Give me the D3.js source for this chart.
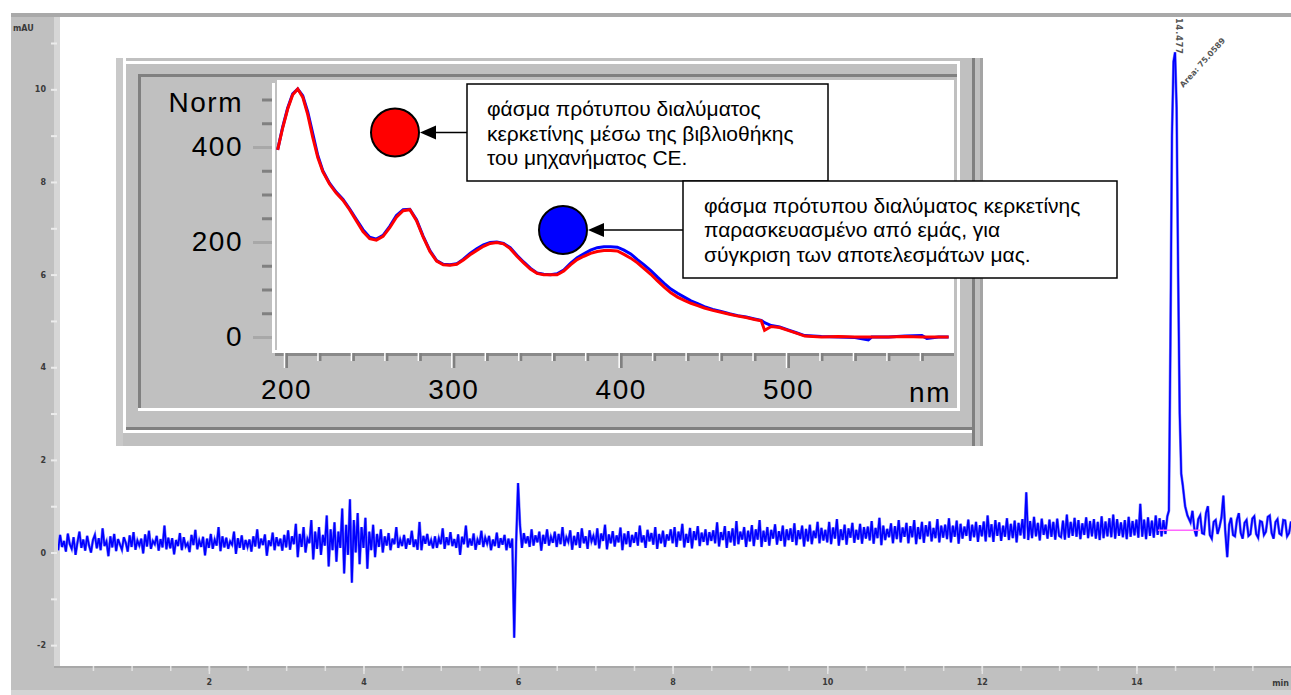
<!DOCTYPE html>
<html>
<head>
<meta charset="utf-8">
<script src="https://cdn.jsdelivr.net/npm/d3@7"></script>
<style>
  html, body { margin: 0; padding: 0; background: #fff; }
  svg { display: block; }
</style>
</head>
<body>
<div id="viz"></div>
<script>
// ---- chromatogram data (mAU vs min) ----
const yLabelTicks = [-2, 0, 2, 4, 6, 8, 10];
const xLabelTicks = [2, 4, 6, 8, 10, 12, 14];

// detector signal sampled every 0.025 min from 0.025 to 14.40 min (one row = 0.5 min)
const chromStart = 0.025;
const chromStep = 0.025;
const chromSignal = [
  0.30, 0.05, 0.38, 0.12, 0.25, 0.02, 0.41, 0.18, 0.08, 0.33, -0.05, 0.22, 0.45, 0.10, 0.28, 0.04, 0.36, 0.15, 0.00, 0.27,
  0.38, 0.09, 0.31, 0.05, 0.52, 0.14, 0.24, -0.08, 0.35, 0.11, 0.40, 0.03, 0.29, 0.17, 0.06, 0.33, 0.21, 0.02, 0.37, 0.12,
  0.44, 0.06, 0.26, 0.15, 0.30, -0.02, 0.39, 0.13, 0.47, 0.08, 0.25, 0.18, 0.36, 0.04, 0.29, 0.11, 0.58, 0.07, 0.32, 0.09,
  0.31, -0.04, 0.27, 0.14, 0.42, 0.05, 0.33, 0.13, 0.20, 0.01, 0.38, 0.16, 0.49, 0.07, 0.26, 0.12, 0.34, -0.06, 0.30, 0.10,
  0.40, 0.08, 0.28, 0.15, 0.55, 0.03, 0.35, 0.11, 0.32, 0.08, 0.24, 0.17, 0.45, -0.03, 0.31, 0.10, 0.37, 0.06, 0.27, 0.12,
  0.28, 0.02, 0.35, 0.13, 0.50, 0.09, 0.30, 0.16, 0.39, -0.07, 0.26, 0.14, 0.43, 0.05, 0.33, 0.14, 0.30, 0.04, 0.38, 0.11,
  0.48, 0.06, 0.35, 0.18, 0.62, -0.10, 0.40, 0.12, 0.55, 0.00, 0.30, 0.20, 0.70, -0.15, 0.45, 0.08, 0.55, -0.05, 0.38, 0.15,
  0.80, -0.30, 0.50, 0.05, 0.65, -0.20, 0.45, 0.10, 0.95, -0.45, 0.60, -0.05, 1.15, -0.65, 0.70, 0.00, 0.85, -0.25, 0.55, 0.10,
  0.75, -0.35, 0.45, 0.05, 0.60, -0.10, 0.40, 0.12, 0.50, 0.00, 0.35, 0.15, 0.42, 0.05, 0.30, 0.18, 0.55, 0.10, 0.28, 0.14,
  0.38, 0.08, 0.30, 0.17, 0.47, 0.12, 0.28, 0.06, 0.66, 0.05, 0.36, 0.19, 0.40, 0.15, 0.27, 0.09, 0.35, 0.10, 0.31, 0.18,
  0.52, 0.08, 0.33, 0.16, 0.44, 0.14, 0.29, 0.10, 0.39, -0.05, 0.34, 0.18, 0.58, 0.11, 0.30, 0.15, 0.41, 0.06, 0.28, 0.17,
  0.47, 0.12, 0.32, 0.19, 0.36, 0.05, 0.28, 0.14, 0.43, 0.10, 0.31, 0.17, 0.38, 0.05, 0.30, 0.10, 0.30, -1.84, 0.20, 1.50,
  0.60, 0.10, 0.42, 0.20, 0.35, 0.12, 0.50, 0.15, 0.37, 0.22, 0.45, 0.04, 0.38, 0.19, 0.50, 0.15, 0.34, 0.21, 0.45, 0.12,
  0.40, 0.18, 0.55, 0.14, 0.33, 0.23, 0.48, 0.06, 0.36, 0.16, 0.44, 0.10, 0.52, 0.20, 0.35, 0.08, 0.48, 0.24, 0.36, 0.16,
  0.52, 0.09, 0.41, 0.25, 0.60, 0.07, 0.39, 0.20, 0.46, 0.13, 0.37, 0.22, 0.54, 0.05, 0.41, 0.18, 0.46, 0.12, 0.38, 0.21,
  0.44, 0.15, 0.58, 0.22, 0.37, 0.10, 0.49, 0.24, 0.42, 0.17, 0.55, 0.08, 0.40, 0.20, 0.47, 0.12, 0.39, 0.26, 0.50, 0.20,
  0.55, 0.12, 0.45, 0.26, 0.62, 0.11, 0.40, 0.21, 0.53, 0.09, 0.46, 0.27, 0.57, 0.14, 0.43, 0.23, 0.50, 0.16, 0.44, 0.25,
  0.48, 0.20, 0.65, 0.13, 0.44, 0.27, 0.57, 0.10, 0.46, 0.22, 0.52, 0.15, 0.68, 0.18, 0.45, 0.28, 0.55, 0.12, 0.47, 0.24,
  0.59, 0.14, 0.50, 0.28, 0.70, 0.12, 0.47, 0.23, 0.55, 0.15, 0.49, 0.30, 0.61, 0.17, 0.46, 0.25, 0.58, 0.13, 0.50, 0.27,
  0.52, 0.23, 0.63, 0.16, 0.48, 0.29, 0.58, 0.13, 0.51, 0.24, 0.60, 0.18, 0.47, 0.31, 0.66, 0.20, 0.53, 0.26, 0.49, 0.22,
  0.66, 0.18, 0.54, 0.30, 0.72, 0.15, 0.50, 0.27, 0.60, 0.17, 0.52, 0.32, 0.64, 0.21, 0.49, 0.28, 0.62, 0.19, 0.55, 0.30,
  0.56, 0.26, 0.68, 0.19, 0.53, 0.31, 0.75, 0.16, 0.58, 0.27, 0.51, 0.33, 0.63, 0.20, 0.57, 0.29, 0.70, 0.22, 0.54, 0.34,
  0.64, 0.20, 0.57, 0.33, 0.70, 0.18, 0.55, 0.29, 0.66, 0.21, 0.59, 0.35, 0.67, 0.24, 0.53, 0.31, 0.72, 0.22, 0.58, 0.32,
  0.60, 0.29, 0.74, 0.22, 0.58, 0.34, 0.69, 0.19, 0.62, 0.30, 0.56, 0.36, 0.71, 0.25, 0.60, 0.33, 0.66, 0.23, 0.59, 0.35,
  0.67, 0.24, 0.80, 0.33, 0.61, 0.23, 0.70, 0.36, 0.65, 0.25, 0.58, 0.34, 0.74, 0.27, 0.62, 0.31, 0.69, 0.22, 0.64, 0.37,
  0.72, 0.30, 1.30, 0.27, 0.68, 0.31, 0.77, 0.35, 0.64, 0.26, 0.73, 0.38, 0.60, 0.30, 0.71, 0.34, 0.66, 0.28, 0.73, 0.36,
  0.33, 0.69, 0.28, 0.82, 0.32, 0.66, 0.36, 0.75, 0.34, 0.70, 0.29, 0.63, 0.38, 0.76, 0.31, 0.68, 0.35, 0.72, 0.30, 0.66,
  0.27, 0.78, 0.31, 0.67, 0.35, 0.74, 0.33, 0.82, 0.30, 0.72, 0.36, 0.65, 0.33, 0.70, 0.29, 0.77, 0.34, 0.68, 0.37, 0.71,
  0.32, 1.05, 0.34, 0.71, 0.29, 0.76, 0.36, 0.69, 0.32, 0.80, 0.38, 0.74, 0.35, 0.70, 0.40, 0.78,
];

// the quercetin peak
const peakTimes = [14.42, 14.44, 14.46, 14.48, 14.50, 14.52, 14.54, 14.56, 14.58, 14.60, 14.63, 14.66, 14.70];
const peakSignal = [0.9, 4.5, 9.0, 10.6, 10.8, 9.6, 6.0, 3.0, 1.7, 1.45, 1.0, 0.8, 0.65];

// after the peak, every 0.025 min from 14.725 to 16.00
const tailStart = 14.725;
const tailSignal = [
  0.90, 0.50, 0.35, 0.72, 0.80, 0.42, 0.40, 0.85, 1.00, 0.38,
  0.30, 0.66, 0.70, 0.40, 0.55, 0.75, 1.23, 0.45, -0.10, 0.60,
  0.75, 0.38, 0.35, 0.70, 0.85, 0.42, 0.30, 0.64, 0.70, 0.36,
  0.40, 0.73, 0.78, 0.40, 0.32, 0.68, 0.66, 0.38, 0.45, 0.77,
  0.80, 0.42, 0.30, 0.66, 0.72, 0.41, 0.38, 0.70, 0.69, 0.35,
  0.42, 0.67,
];

const peakRT = '14.477';
const peakArea = 'Area: 75.0589';
const peakBaseline = {from: 14.28, to: 14.83, level: 0.48};

// ---- inset UV spectrum (Norm vs nm) ----
const specWavelengths = [
  195, 198, 201, 204, 207, 210, 213, 216, 219, 222, 226, 230, 234, 238, 242, 246,
  250, 254, 258, 262, 266, 270, 274, 278, 282, 286, 290, 294, 298, 302, 306, 310,
  314, 318, 322, 326, 330, 334, 338, 342, 346, 350, 354, 358, 362, 366, 370, 374,
  378, 382, 386, 390, 394, 398, 402, 406, 410, 414, 418, 422, 426, 430, 434, 438,
  442, 446, 450, 455, 460, 465, 470, 475, 480, 484, 486, 490, 495, 500, 505, 510,
  520, 530, 540, 548, 550, 560, 570, 580, 583, 590, 596,
];
// library spectrum (red)
const specLibrary = [
  394, 440, 480, 510, 522, 505, 468, 420, 378, 348, 322, 303, 288, 268, 245, 222,
  207, 204, 212, 230, 252, 266, 268, 245, 210, 180, 160, 152, 151, 153, 162, 173,
  182, 191, 197, 199, 196, 186, 170, 156, 143, 134, 131, 131, 131, 139, 152, 163,
  170, 176, 180, 182, 182, 181, 174, 166, 156, 144, 132, 118, 105, 93, 84, 77,
  71, 66, 61, 56, 52, 48, 44, 41, 37, 34, 14, 22, 20, 14, 8, 2,
  0, 1, 0, 0, 0, 0, 1, 0, 0, 0, 0,
];
// our prepared standard (blue)
const specPrepared = [
  394, 442, 482, 512, 522, 508, 474, 428, 382, 350, 324, 305, 290, 270, 248, 226,
  210, 206, 214, 233, 256, 268, 269, 247, 212, 182, 161, 153, 152, 154, 164, 176,
  186, 194, 199, 200, 197, 188, 172, 158, 145, 135, 132, 131, 133, 141, 155, 167,
  175, 183, 188, 190, 190, 189, 183, 175, 163, 152, 140, 126, 113, 101, 92, 84,
  76, 70, 64, 58, 54, 49, 45, 42, 38, 35, 30, 24, 21, 15, 9, 3,
  1, 0, -1, -6, 0, 0, 2, 3, -3, 0, 0,
];

const specYTicks = [0, 200, 400];
const specXTicks = [200, 300, 400, 500];

const legendLibrary = ['φάσμα πρότυπου διαλύματος', 'κερκετίνης μέσω της βιβλιοθήκης', 'του μηχανήματος CE.'];
const legendPrepared = ['φάσμα πρότυπου διαλύματος κερκετίνης', 'παρασκευασμένο από εμάς, για', 'σύγκριση των αποτελεσμάτων μας.'];

// ---- page ----
const width = 1291;
const height = 695;
const smallFont = 'DejaVu Sans';
const insetFont = 'Liberation Sans, Arial, sans-serif';

const svg = d3.select('#viz').append('svg')
  .attr('width', width)
  .attr('height', height)
  .style('background', '#fff');

function box(sel, x, y, w, h, fill) {
  return sel.append('rect').attr('x', x).attr('y', y).attr('width', w).attr('height', h).attr('fill', fill);
}

// window chrome around the chromatogram
box(svg, 11, 13, width - 11, 4, '#a9a9a9');
box(svg, 11, 17, 43, 673, '#c0c0c0');
box(svg, 54, 17, 6, 650, '#d6d6d6');
box(svg, 11, 666, width - 11, 24, '#c0c0c0');
box(svg, 54, 666, width - 54, 2, '#a8a8a8');
box(svg, 11, 690, width - 11, 5, '#d4d4d4');

const x = d3.scaleLinear().domain([0, 16]).range([54.3, 1291]);
const y = d3.scaleLinear().domain([-2.45, 11.54]).range([666, 18]);

// y axis (ticks every unit, labels every two)
const yAxis = svg.append('g')
  .attr('transform', 'translate(57,0)')
  .call(d3.axisLeft(y)
    .tickValues(d3.range(-2, 12))
    .tickSize(6)
    .tickPadding(5)
    .tickFormat(d => yLabelTicks.includes(d) ? d : ''));
yAxis.select('.domain').remove();
yAxis.selectAll('.tick line').attr('stroke', '#ececec').attr('stroke-width', 2);
yAxis.selectAll('.tick text')
  .attr('fill', '#3a3a3a')
  .style('font-family', smallFont)
  .style('font-size', '8px')
  .style('font-weight', 'bold');

svg.append('text')
  .attr('x', 13).attr('y', 31)
  .attr('fill', '#3a3a3a')
  .style('font-family', smallFont)
  .style('font-size', '8px')
  .style('font-weight', 'bold')
  .text('mAU');

// x axis: minor ticks every 0.5 min, labels every 2 min
const xMinor = svg.append('g')
  .attr('transform', 'translate(0,666)')
  .call(d3.axisBottom(x).tickValues(d3.range(0.5, 16, 0.5)).tickSize(5).tickFormat(''));
xMinor.select('.domain').remove();
xMinor.selectAll('.tick line').attr('stroke', '#e4e4e4').attr('stroke-width', 1.5);

const xMajor = svg.append('g')
  .attr('transform', 'translate(0,666)')
  .call(d3.axisBottom(x).tickValues(xLabelTicks).tickSize(8).tickPadding(5));
xMajor.select('.domain').remove();
xMajor.selectAll('.tick line').attr('stroke', '#e4e4e4').attr('stroke-width', 1.5);
xMajor.selectAll('.tick text')
  .attr('fill', '#3a3a3a')
  .style('font-family', smallFont)
  .style('font-size', '8px')
  .style('font-weight', 'bold');

svg.append('text')
  .attr('x', 1289).attr('y', 686)
  .attr('text-anchor', 'end')
  .attr('fill', '#3a3a3a')
  .style('font-family', smallFont)
  .style('font-size', '8px')
  .style('font-weight', 'bold')
  .text('min');

// chromatogram trace
const chromPoints = chromSignal.map((v, i) => [chromStart + i * chromStep, v])
  .concat(peakTimes.map((t, i) => [t, peakSignal[i]]))
  .concat(tailSignal.map((v, i) => [tailStart + i * chromStep, v]));

svg.append('clipPath').attr('id', 'plotClip')
  .append('rect').attr('x', 58).attr('y', 17).attr('width', width - 58).attr('height', 649);

const trace = d3.line().x(d => x(d[0])).y(d => y(d[1]));
const plot = svg.append('g').attr('clip-path', 'url(#plotClip)');

plot.append('path')
  .attr('d', trace(chromPoints))
  .attr('fill', 'none')
  .attr('stroke', '#8080ff')
  .attr('stroke-width', 2.8);
plot.append('path')
  .attr('d', trace(chromPoints))
  .attr('fill', 'none')
  .attr('stroke', '#0000ff')
  .attr('stroke-width', 1.7);

// integration baseline under the peak
plot.append('line')
  .attr('x1', x(peakBaseline.from)).attr('x2', x(peakBaseline.to))
  .attr('y1', y(peakBaseline.level)).attr('y2', y(peakBaseline.level))
  .attr('stroke', '#ff66ff')
  .attr('stroke-width', 1.5);

// peak annotations
svg.append('text')
  .attr('transform', `translate(${x(14.477) + 3},18) rotate(90)`)
  .attr('fill', '#555')
  .style('font-family', smallFont)
  .style('font-size', '8px')
  .style('font-weight', 'bold')
  .style('letter-spacing', '1px')
  .text(peakRT);

svg.append('text')
  .attr('transform', `translate(${x(14.477) + 10},88) rotate(-48)`)
  .attr('fill', '#555')
  .style('font-family', smallFont)
  .style('font-size', '8px')
  .style('font-weight', 'bold')
  .text(peakArea);

// ---- inset window with the UV spectrum ----
const inset = svg.append('g');
box(inset, 116, 58, 867, 388, '#c0c0c0');
box(inset, 116, 58, 7, 388, '#c9c9c9');
box(inset, 123, 58, 3, 375, '#ffffff');
box(inset, 126, 61, 834, 3, '#ffffff');
box(inset, 138, 74, 820, 3, '#808080');
box(inset, 138, 74, 3, 337, '#808080');
box(inset, 138, 408, 822, 3, '#ffffff');
box(inset, 957, 61, 3, 350, '#ffffff');
box(inset, 126, 427, 846, 3, '#808080');
box(inset, 126, 430, 846, 3, '#ffffff');
box(inset, 972, 58, 3, 388, '#808080');
box(inset, 980, 58, 3, 388, '#a4a4a4');

// spectrum plot area
box(inset, 277, 80, 677, 270, '#ffffff');
box(inset, 272, 83, 3, 270, '#ffffff');
box(inset, 272, 350, 682, 3, '#ffffff');
box(inset, 275, 353, 679, 3, '#8a8a8a');

const sx = d3.scaleLinear().domain([200, 500]).range([286, 788]);
const sy = d3.scaleLinear().domain([0, 400]).range([337, 147]);

// y ticks every 50, labelled every 200
const sYAxis = inset.append('g')
  .attr('transform', 'translate(272,0)')
  .call(d3.axisLeft(sy)
    .tickValues(d3.range(0, 550, 50))
    .tickSize(10)
    .tickPadding(11)
    .tickFormat(d => specYTicks.includes(d) ? d : ''));
sYAxis.select('.domain').remove();
sYAxis.selectAll('.tick line')
  .attr('stroke', '#808080')
  .attr('stroke-width', 3);
sYAxis.selectAll('.tick')
  .filter(d => specYTicks.includes(d))
  .select('line')
  .attr('x2', -19)
  .attr('stroke', '#a8a8a8');
sYAxis.selectAll('.tick text')
  .attr('fill', '#000')
  .attr('x', -29)
  .style('font-family', insetFont)
  .style('font-size', '28px')
  .style('letter-spacing', '1.5px');

inset.append('text')
  .attr('x', 243).attr('y', 112)
  .attr('text-anchor', 'end')
  .attr('fill', '#000')
  .style('font-family', insetFont)
  .style('font-size', '28px')
  .style('letter-spacing', '1.5px')
  .text('Norm');

// x ticks every 20 nm, labelled every 100
const sXAxis = inset.append('g')
  .attr('transform', 'translate(0,353)')
  .call(d3.axisBottom(sx)
    .tickValues(d3.range(200, 600, 20))
    .tickSize(8)
    .tickPadding(18)
    .tickFormat(d => specXTicks.includes(d) ? d : ''));
sXAxis.select('.domain').remove();
sXAxis.selectAll('.tick line')
  .attr('stroke', '#808080')
  .attr('stroke-width', 3);
sXAxis.selectAll('.tick')
  .filter(d => specXTicks.includes(d))
  .select('line')
  .attr('y2', 15);
sXAxis.selectAll('.tick')
  .append('line')
  .attr('x1', -2).attr('x2', -2)
  .attr('y1', -3).attr('y2', d => specXTicks.includes(d) ? 15 : 8)
  .attr('stroke', '#ffffff')
  .attr('stroke-width', 1.5);
sXAxis.selectAll('.tick text')
  .attr('fill', '#000')
  .style('font-family', insetFont)
  .style('font-size', '28px')
  .style('letter-spacing', '1.5px');

inset.append('text')
  .attr('x', 951).attr('y', 402)
  .attr('text-anchor', 'end')
  .attr('fill', '#000')
  .style('font-family', insetFont)
  .style('font-size', '28px')
  .style('letter-spacing', '1.5px')
  .text('nm');

// spectra
inset.append('clipPath').attr('id', 'specClip')
  .append('rect').attr('x', 276).attr('y', 80).attr('width', 678).attr('height', 271);
const specLine = d3.line().x((d, i) => sx(specWavelengths[i])).y(d => sy(d));
const specG = inset.append('g').attr('clip-path', 'url(#specClip)');
specG.append('path')
  .attr('d', specLine(specPrepared))
  .attr('fill', 'none')
  .attr('stroke', '#0000ff')
  .attr('stroke-width', 3);
specG.append('path')
  .attr('d', specLine(specLibrary))
  .attr('fill', 'none')
  .attr('stroke', '#ff0000')
  .attr('stroke-width', 3);

// ---- legend callouts ----
function callout({cx, cy, color, boxX, boxY, boxW, boxH, lines, textX, firstBaseline}) {
  svg.append('circle')
    .attr('cx', cx).attr('cy', cy).attr('r', 24)
    .attr('fill', color)
    .attr('stroke', '#000')
    .attr('stroke-width', 2);
  const tip = cx + 25;
  svg.append('line')
    .attr('x1', tip + 14).attr('x2', boxX)
    .attr('y1', cy).attr('y2', cy)
    .attr('stroke', '#000')
    .attr('stroke-width', 1.5);
  svg.append('path')
    .attr('d', `M${tip},${cy}L${tip + 16},${cy - 7}L${tip + 16},${cy + 7}Z`)
    .attr('fill', '#000');
  svg.append('rect')
    .attr('x', boxX).attr('y', boxY).attr('width', boxW).attr('height', boxH)
    .attr('fill', '#fff')
    .attr('stroke', '#000')
    .attr('stroke-width', 1.5);
  svg.append('g').selectAll('text')
    .data(lines)
    .join('text')
    .attr('x', textX)
    .attr('y', (d, i) => firstBaseline + i * 24.7)
    .attr('fill', '#000')
    .style('font-family', insetFont)
    .style('font-size', '21px')
    .text(d => d);
}

callout({
  cx: 395, cy: 132.5, color: '#ff0000',
  boxX: 467, boxY: 84, boxW: 361, boxH: 97,
  lines: legendLibrary, textX: 487, firstBaseline: 116,
});
callout({
  cx: 563, cy: 230, color: '#0000ff',
  boxX: 683, boxY: 181, boxW: 434, boxH: 97,
  lines: legendPrepared, textX: 704, firstBaseline: 212.5,
});
</script>
</body>
</html>
